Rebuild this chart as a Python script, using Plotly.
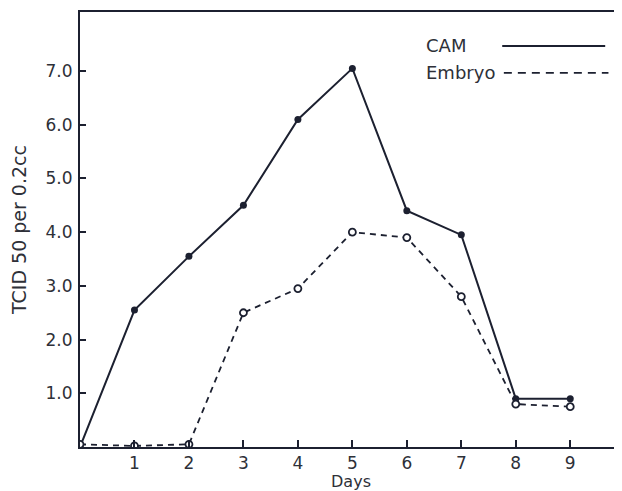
import plotly.graph_objects as go

days = [0, 1, 2, 3, 4, 5, 6, 7, 8, 9]
cam = [0.0, 2.55, 3.55, 4.5, 6.1, 7.05, 4.4, 3.95, 0.9, 0.9]
embryo = [0.05, 0.02, 0.05, 2.5, 2.95, 4.0, 3.9, 2.8, 0.8, 0.75]
x_ticks = [1, 2, 3, 4, 5, 6, 7, 8, 9]
x_tick_labels = ["1", "2", "3", "4", "5", "6", "7", "8", "9"]
y_ticks = [1, 2, 3, 4, 5, 6, 7]
y_tick_labels = ["1.0", "2.0", "3.0", "4.0", "5.0", "6.0", "7.0"]

ink = "#1c2030"
txt = "#2e3038"
font = "DejaVu Sans, Verdana, sans-serif"

fig = go.Figure()
fig.add_trace(go.Scatter(
    x=days, y=cam, mode="lines+markers", name="CAM",
    line=dict(color=ink, width=2),
    marker=dict(color=ink, size=7, symbol="circle"),
))
fig.add_trace(go.Scatter(
    x=days, y=embryo, mode="lines+markers", name="Embryo",
    line=dict(color=ink, width=1.8, dash="6px,5px"),
    marker=dict(color="white", size=7, symbol="circle", line=dict(color=ink, width=1.8)),
))

# custom legend (text then line sample, as in the original)
fig.add_annotation(xref="paper", yref="paper", x=0.635, y=0.924, text="CAM",
                   showarrow=False, xanchor="left", yanchor="middle",
                   font=dict(family=font, size=18, color=txt))
fig.add_annotation(xref="paper", yref="paper", x=0.635, y=0.862, text="Embryo",
                   showarrow=False, xanchor="left", yanchor="middle",
                   font=dict(family=font, size=18, color=txt))
fig.add_shape(type="line", xref="paper", yref="paper", x0=0.779, x1=0.969, y0=0.922, y1=0.922,
              line=dict(color=ink, width=2))
fig.add_shape(type="line", xref="paper", yref="paper", x0=0.782, x1=0.975, y0=0.860, y1=0.860,
              line=dict(color=ink, width=1.8, dash="8px,6px"))

fig.update_layout(
    width=614, height=483,
    margin=dict(l=72, r=0, t=4, b=44),
    paper_bgcolor="white", plot_bgcolor="white",
    showlegend=False,
    font=dict(family=font, color=txt, size=16),
    xaxis=dict(
        range=[0, 9.95], tickvals=x_ticks, ticktext=x_tick_labels,
        ticks="inside", ticklen=7, tickwidth=2, tickcolor=ink,
        showline=True, linecolor=ink, linewidth=2, mirror=True,
        showgrid=False, zeroline=False, automargin=False,
        title=dict(text="Days", font=dict(size=16, color=txt), standoff=0),
        tickfont=dict(size=17, color=txt),
    ),
    yaxis=dict(
        range=[0, 8.1], tickvals=y_ticks, ticktext=y_tick_labels,
        ticks="inside", ticklen=6, tickwidth=2, tickcolor=ink,
        showline=True, linecolor=ink, linewidth=2,
        showgrid=False, zeroline=False, automargin=False,
        ticklabelstandoff=2,
        title=dict(text="TCID 50 per 0.2cc", font=dict(size=19, color=txt), standoff=26),
        tickfont=dict(size=17, color=txt),
    ),
)

fig.write_html("out.html")
